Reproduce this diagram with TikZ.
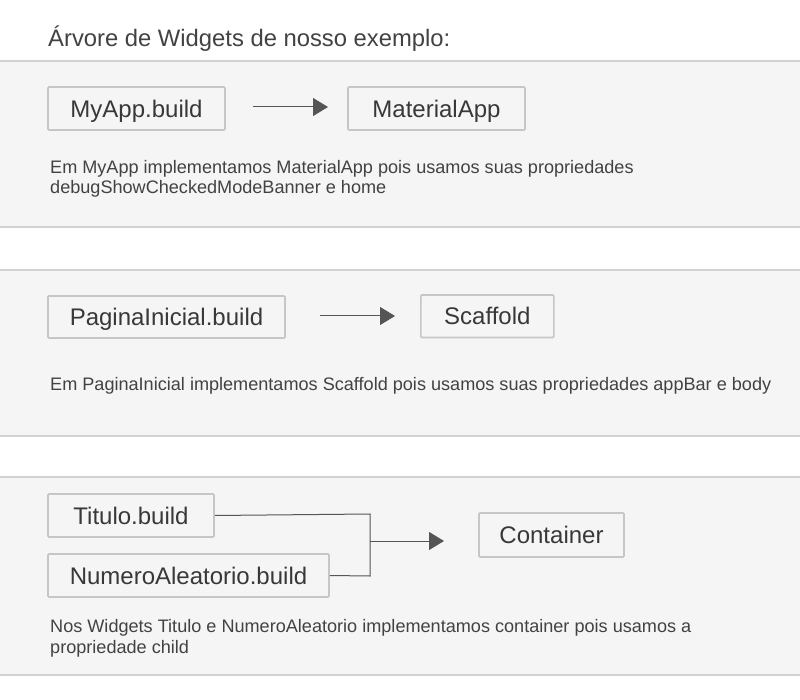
\documentclass[tikz,border=0pt]{standalone}
\usepackage{fontspec}
\setmainfont{Liberation Sans}
\usetikzlibrary{arrows.meta}
\definecolor{txt}{HTML}{424242}
\definecolor{boxtxt}{HTML}{383838}
\definecolor{panelbg}{HTML}{F5F5F5}
\definecolor{panelline}{HTML}{D2D2D2}
\definecolor{boxline}{HTML}{C6C6C6}
\definecolor{arrowc}{HTML}{555555}
\tikzset{
  panelbox/.style={fill=panelbg, draw=none},
  panelrule/.style={draw=panelline, line width=1.5pt},
  wbox/.style={draw=boxline, line width=1.6pt, rounded corners=1pt, inner sep=0pt,
    text height=17.2pt, text depth=0pt,
    text=boxtxt, font=\fontsize{24}{28}\selectfont, anchor=center},
  desc/.style={anchor=base west, inner sep=0pt, text=txt, font=\fontsize{18.1}{21}\selectfont},
  conn/.style={draw=arrowc, line width=1pt},
  arr/.style={draw=arrowc, line width=1pt, -{Triangle[length=15pt, width=18pt]}, arrowc},
}
\begin{document}
\begin{tikzpicture}[x=1pt, y=-1pt]
\useasboundingbox (0,0) rectangle (800,700);
\fill[white] (0,0) rectangle (800,700);
% panels
\fill[panelbox] (-2,61) rectangle (802,227);
\draw[panelrule] (-2,61) -- (802,61);
\draw[panelrule] (-2,227) -- (802,227);
\fill[panelbox] (-2,270) rectangle (802,436);
\draw[panelrule] (-2,270) -- (802,270);
\draw[panelrule] (-2,436) -- (802,436);
\fill[panelbox] (-2,477) rectangle (802,675);
\draw[panelrule] (-2,477) -- (802,477);
\draw[panelrule] (-2,675) -- (802,675);

% title
\node[anchor=base west, inner sep=0pt, text=txt, font=\fontsize{23.8}{28}\selectfont] (title) at (48,46.5) {Árvore de Widgets de nosso exemplo:};

% panel 1
\node[wbox, minimum width=177pt, minimum height=43pt] (myapp) at (136.5,108.5) {MyApp.build};
\node[wbox, minimum width=177pt, minimum height=43pt] (material) at (436.5,108.5) {MaterialApp};
\coordinate (a1s) at (253,107);
\coordinate (a1e) at (328,107);
\draw[arr] (a1s) -- (a1e);
\node[desc] (d1a) at (50,173.3) {Em MyApp implementamos MaterialApp pois usamos suas propriedades};
\node[desc] (d1b) at (50,194) {debugShowCheckedModeBanner e home};

% panel 2
\node[wbox, minimum width=237pt, minimum height=42pt] (pagina) at (166.5,317) {PaginaInicial.build};
\node[wbox, minimum width=133pt, minimum height=42.5pt] (scaffold) at (487.3,316.3) {Scaffold};
\coordinate (a2s) at (320,316);
\coordinate (a2e) at (395,316);
\draw[arr] (a2s) -- (a2e);
\node[desc] (d2) at (50,390) {Em PaginaInicial implementamos Scaffold pois usamos suas propriedades appBar e body};

% panel 3
\node[wbox, minimum width=166pt, minimum height=43pt] (titulo) at (131,515.5) {Titulo.build};
\node[wbox, minimum width=281pt, minimum height=43pt] (numero) at (188.5,575.5) {NumeroAleatorio.build};
\node[wbox, minimum width=145pt, minimum height=44pt] (container) at (551.5,535) {Container};
\coordinate (j1) at (370,514);
\coordinate (j2) at (370,576);
\draw[conn] (titulo.east) -- (j1) -- (j2) -- (numero.east);
\coordinate (a3s) at (370,541);
\coordinate (a3e) at (444,541);
\draw[arr] (a3s) -- (a3e);
\node[desc] (d3a) at (50,632) {Nos Widgets Titulo e NumeroAleatorio implementamos container pois usamos a};
\node[desc] (d3b) at (50,653) {propriedade child};
\end{tikzpicture}
\end{document}
